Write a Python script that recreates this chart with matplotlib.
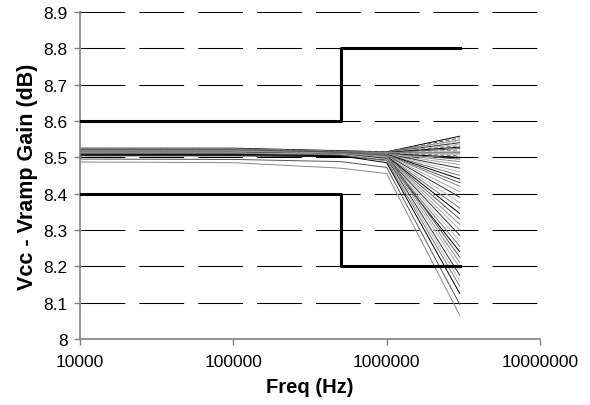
import matplotlib
matplotlib.use("Agg")
import matplotlib.pyplot as plt
import numpy as np

plt.rcParams['font.family'] = ['Liberation Sans', 'DejaVu Sans']

# frequency points of each sweep (Hz)
freq = [10000, 100000, 500000, 1000000, 3000000]

# gain of each sweep at the frequency points (dB)
gain_10k = [8.525, 8.524, 8.523, 8.522, 8.521, 8.520, 8.520, 8.519, 8.518, 8.518,
            8.517, 8.516, 8.516, 8.515, 8.515, 8.514, 8.514, 8.513, 8.513, 8.512,
            8.512, 8.511, 8.511, 8.510, 8.510, 8.509, 8.509, 8.508, 8.508, 8.507,
            8.507, 8.506, 8.506, 8.505, 8.505, 8.504, 8.520, 8.518, 8.516, 8.514,
            8.512, 8.510, 8.508, 8.495, 8.487]
gain_100k = [8.525, 8.524, 8.523, 8.522, 8.521, 8.520, 8.520, 8.519, 8.518, 8.518,
             8.517, 8.516, 8.516, 8.515, 8.515, 8.514, 8.514, 8.513, 8.513, 8.512,
             8.512, 8.511, 8.511, 8.510, 8.510, 8.509, 8.509, 8.508, 8.508, 8.507,
             8.507, 8.506, 8.506, 8.505, 8.505, 8.504, 8.520, 8.518, 8.516, 8.514,
             8.512, 8.510, 8.508, 8.494, 8.485]
gain_500k = [8.518, 8.517, 8.516, 8.515, 8.515, 8.514, 8.514, 8.513, 8.513, 8.512,
             8.512, 8.512, 8.511, 8.511, 8.511, 8.510, 8.510, 8.510, 8.509, 8.509,
             8.509, 8.508, 8.508, 8.508, 8.507, 8.507, 8.506, 8.506, 8.505, 8.505,
             8.504, 8.504, 8.503, 8.503, 8.502, 8.502, 8.512, 8.511, 8.510, 8.509,
             8.508, 8.506, 8.504, 8.488, 8.470]
gain_1m = [8.515, 8.515, 8.514, 8.514, 8.514, 8.513, 8.513, 8.513, 8.512, 8.512,
           8.512, 8.511, 8.511, 8.511, 8.510, 8.510, 8.510, 8.509, 8.509, 8.509,
           8.508, 8.508, 8.507, 8.507, 8.506, 8.506, 8.505, 8.504, 8.503, 8.502,
           8.501, 8.500, 8.499, 8.497, 8.495, 8.493, 8.505, 8.503, 8.500, 8.497,
           8.494, 8.490, 8.485, 8.472, 8.455]
gain_3m = [8.558, 8.553, 8.548, 8.544, 8.540, 8.536, 8.532, 8.528, 8.524, 8.520,
           8.516, 8.512, 8.508, 8.504, 8.500, 8.495, 8.488, 8.480, 8.470, 8.460,
           8.450, 8.440, 8.430, 8.420, 8.405, 8.390, 8.375, 8.360, 8.345, 8.330,
           8.315, 8.300, 8.285, 8.270, 8.255, 8.240, 8.225, 8.210, 8.195, 8.175,
           8.160, 8.145, 8.125, 8.095, 8.065]

# spec limits
lim_freq = [10000, 500000, 500000, 3000000]
lim_upper = [8.6, 8.6, 8.8, 8.8]
lim_lower = [8.4, 8.4, 8.2, 8.2]

fig = plt.figure(figsize=(5.9, 4.06), dpi=100)
ax = fig.add_axes([0.136, 0.163, 0.779, 0.805])

# dashed horizontal grid
for y in np.arange(8.1, 8.95, 0.1):
    ax.axhline(y, color='black', linewidth=0.75,
               linestyle=(0, (43, 13.5)), zorder=1)

colors = ['#000000', '#555555', '#888888', '#aaaaaa', '#333333', '#bbbbbb', '#777777']
sweeps = np.array([gain_10k, gain_100k, gain_500k, gain_1m, gain_3m]).T
for i, g in enumerate(sweeps):
    ls = (0, (4, 2.5)) if i in (1, 3, 6, 9, 13) else '-'
    ax.plot(freq, g, color=colors[i % len(colors)], linewidth=0.7,
            linestyle=ls, zorder=2)

ax.plot(lim_freq, lim_upper, color='black', linewidth=2.2, zorder=3)
ax.plot(lim_freq, lim_lower, color='black', linewidth=2.2, zorder=3)

ax.set_xscale('log')
ax.set_xlim(10000, 10000000)
ax.set_ylim(8.0, 8.9)
ax.set_xticks([10000, 100000, 1000000, 10000000])
ax.set_xticklabels(['10000', '100000', '1000000', '10000000'])
ax.xaxis.set_minor_locator(matplotlib.ticker.NullLocator())
ax.set_yticks(np.round(np.arange(8.0, 8.95, 0.1), 1))
ax.set_yticklabels(['8', '8.1', '8.2', '8.3', '8.4', '8.5', '8.6', '8.7', '8.8', '8.9'])

for s in ['top', 'right']:
    ax.spines[s].set_visible(False)
for s in ['left', 'bottom']:
    ax.spines[s].set_color('#808080')
    ax.spines[s].set_linewidth(1.2)
ax.tick_params(axis='both', length=4, width=1, color='#808080', labelsize=12.5)
ax.tick_params(axis='x', pad=7)
ax.tick_params(axis='y', pad=5)

ax.set_xlabel('Freq (Hz)', fontsize=14.5, fontweight='bold', labelpad=6)
ax.set_ylabel('Vcc - Vramp Gain (dB)', fontsize=15.5, fontweight='bold', labelpad=4)

fig.savefig('out.png', dpi=100)
